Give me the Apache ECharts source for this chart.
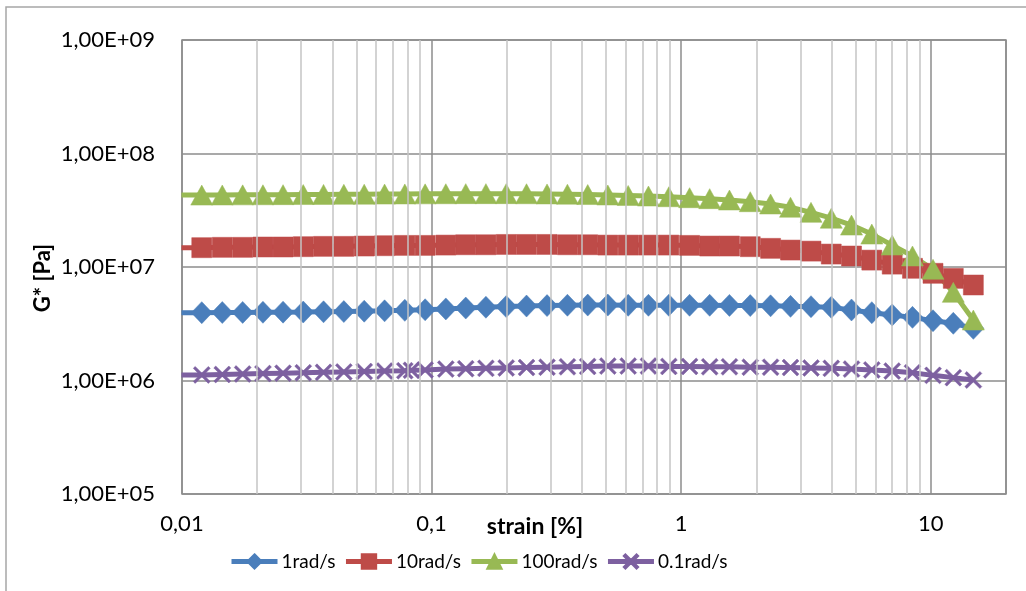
<!DOCTYPE html>
<html>
<head>
<meta charset="utf-8">
<script src="https://cdn.jsdelivr.net/npm/echarts@6/dist/echarts.min.js"></script>
<style>
  html, body { margin: 0; padding: 0; background: #fff; }
  #chart { width: 1026px; height: 591px; }
</style>
</head>
<body>
<div id="chart"></div>
<script>
// Strain sweep (%) – first entry lies just left of the axis start
const strain = [0.00995, 0.0120, 0.0145, 0.0175, 0.0211, 0.0254, 0.0306, 0.0369, 0.0445, 0.0537,
  0.0648, 0.0781, 0.0942, 0.114, 0.137, 0.165, 0.199, 0.240, 0.290, 0.350,
  0.422, 0.508, 0.613, 0.739, 0.892, 1.08, 1.30, 1.56, 1.89, 2.28,
  2.74, 3.31, 3.99, 4.81, 5.80, 7.00, 8.44, 10.2, 12.3, 14.8];

// 0.1 rad/s sweep has one extra point near 0.083 %
const strainSlow = [0.00995, 0.0120, 0.0145, 0.0175, 0.0211, 0.0254, 0.0306, 0.0369, 0.0445, 0.0537,
  0.0648, 0.0781, 0.083, 0.0942, 0.114, 0.137, 0.165, 0.199, 0.240, 0.290, 0.350,
  0.422, 0.508, 0.613, 0.739, 0.892, 1.08, 1.30, 1.56, 1.89, 2.28,
  2.74, 3.31, 3.99, 4.81, 5.80, 7.00, 8.44, 10.2, 12.3, 14.8];

// Complex modulus G* (Pa)
const g1 = [3.96e6, 3.96e6, 3.97e6, 3.98e6, 3.99e6, 4.00e6, 4.01e6, 4.03e6, 4.05e6, 4.08e6,
  4.11e6, 4.15e6, 4.20e6, 4.27e6, 4.35e6, 4.42e6, 4.48e6, 4.53e6, 4.57e6, 4.60e6,
  4.62e6, 4.62e6, 4.60e6, 4.60e6, 4.60e6, 4.60e6, 4.60e6, 4.59e6, 4.57e6, 4.55e6,
  4.50e6, 4.47e6, 4.41e6, 4.18e6, 3.96e6, 3.78e6, 3.60e6, 3.36e6, 3.19e6, 2.88e6];

const g10 = [1.48e7, 1.48e7, 1.49e7, 1.49e7, 1.50e7, 1.50e7, 1.51e7, 1.52e7, 1.52e7, 1.53e7,
  1.54e7, 1.55e7, 1.55e7, 1.56e7, 1.57e7, 1.57e7, 1.58e7, 1.58e7, 1.58e7, 1.57e7,
  1.57e7, 1.56e7, 1.56e7, 1.56e7, 1.56e7, 1.55e7, 1.53e7, 1.53e7, 1.51e7, 1.46e7,
  1.41e7, 1.38e7, 1.30e7, 1.25e7, 1.15e7, 1.06e7, 9.74e6, 8.80e6, 7.94e6, 6.94e6];

const g100 = [4.30e7, 4.30e7, 4.31e7, 4.32e7, 4.33e7, 4.34e7, 4.35e7, 4.36e7, 4.37e7, 4.38e7,
  4.39e7, 4.40e7, 4.41e7, 4.42e7, 4.43e7, 4.43e7, 4.43e7, 4.42e7, 4.40e7, 4.38e7,
  4.35e7, 4.31e7, 4.27e7, 4.22e7, 4.16e7, 4.08e7, 4.00e7, 3.89e7, 3.76e7, 3.59e7,
  3.36e7, 3.03e7, 2.69e7, 2.34e7, 1.95e7, 1.56e7, 1.25e7, 9.55e6, 5.98e6, 3.41e6];

const g01 = [1.12e6, 1.12e6, 1.13e6, 1.14e6, 1.15e6, 1.16e6, 1.17e6, 1.18e6, 1.19e6, 1.20e6,
  1.21e6, 1.22e6, 1.23e6, 1.24e6, 1.26e6, 1.27e6, 1.28e6, 1.29e6, 1.30e6, 1.31e6,
  1.32e6, 1.33e6, 1.34e6, 1.34e6, 1.34e6, 1.33e6, 1.33e6, 1.32e6, 1.32e6, 1.31e6,
  1.31e6, 1.30e6, 1.29e6, 1.28e6, 1.26e6, 1.24e6, 1.21e6, 1.17e6, 1.11e6, 1.06e6, 1.01e6];

const seriesNames = ['1rad/s', '10rad/s', '100rad/s', '0.1rad/s'];
const colors = ['#4A7EBB', '#BE4B48', '#98B954', '#7D60A0'];

// Minor grid positions on the strain axis
const minorStrain = [0.02, 0.03, 0.04, 0.05, 0.06, 0.07, 0.08, 0.09,
  0.2, 0.3, 0.4, 0.5, 0.6, 0.7, 0.8, 0.9,
  2, 3, 4, 5, 6, 7, 8, 9];

const FONT = 'Lato';
const crossPath = 'path://M0,1.6 L1.6,0 L7,5.4 L12.4,0 L14,1.6 L8.6,7 L14,12.4 L12.4,14 L7,8.6 L1.6,14 L0,12.4 L5.4,7 Z';

function pairs(xs, ys) {
  return xs.map((x, i) => i === 0 ? { value: [x, ys[i]], symbol: 'none' } : [x, ys[i]]);
}

function makeSeries(name, xs, ys, color, symbol, size) {
  return {
    name: name,
    type: 'line',
    data: pairs(xs, ys),
    symbol: symbol,
    symbolSize: size,
    showAllSymbol: true,
    clip: true,
    z: 3,
    lineStyle: { color: color, width: 5 },
    itemStyle: { color: color, borderColor: color, borderWidth: 0.5 },
    emphasis: { disabled: true }
  };
}

const chart = echarts.init(document.getElementById('chart'), null, { renderer: 'canvas' });

chart.setOption({
  animation: false,
  backgroundColor: '#fff',
  color: colors,
  textStyle: { fontFamily: FONT },
  grid: {
    left: 182, top: 40, right: 20, bottom: 97,
    show: true, borderColor: '#8c8c8c', borderWidth: 1.5, backgroundColor: 'transparent'
  },
  xAxis: {
    type: 'log', logBase: 10, min: 0.01, max: 20,
    axisLine: { show: false },
    axisTick: { show: false },
    splitLine: { show: true, lineStyle: { color: '#8c8c8c', width: 1.5 } },
    axisLabel: {
      color: '#000', fontSize: 22, fontFamily: FONT, margin: 19,
      showMaxLabel: false,
      formatter: v => (v > 15 ? '' : String(+v.toPrecision(3)).replace('.', ','))
    }
  },
  yAxis: {
    type: 'log', logBase: 10, min: 1e5, max: 1e9,
    axisLine: { show: false },
    axisTick: { show: false },
    splitLine: { show: true, lineStyle: { color: '#8c8c8c', width: 1.5 } },
    axisLabel: {
      color: '#000', fontSize: 22, fontFamily: FONT, margin: 27,
      formatter: v => '1,00E+' + String(Math.round(Math.log10(v))).padStart(2, '0')
    }
  },
  legend: {
    data: seriesNames,
    left: 224, top: 547,
    itemWidth: 46, itemHeight: 18, itemGap: 8,
    lineStyle: { width: 5 },
    textStyle: { color: '#000', fontSize: 19, fontFamily: FONT, padding: [0, 0, 0, -1] }
  },
  graphic: [
    {
      type: 'rect', silent: true, z: 0,
      shape: { x: 6, y: 7, width: 1100, height: 700 },
      style: { fill: 'none', stroke: '#a6a6a6', lineWidth: 1.5 }
    },
    {
      type: 'text', silent: true,
      x: 43, y: 278, rotation: Math.PI / 2,
      style: { text: 'G* [Pa]', fill: '#000', font: 'bold 22px ' + FONT, align: 'center', verticalAlign: 'middle' }
    },
    {
      type: 'text', silent: true,
      x: 535, y: 527,
      style: { text: 'strain [%]', fill: '#000', font: 'bold 23px ' + FONT, align: 'center', verticalAlign: 'middle' }
    }
  ],
  series: [
    {
      name: 'minor-grid', type: 'line', data: [], z: 1, silent: true,
      markLine: {
        silent: true, symbol: 'none', label: { show: false },
        lineStyle: { color: '#c4c4c4', width: 1.5, type: 'solid' },
        animation: false,
        data: minorStrain.map(v => ({ xAxis: v }))
      }
    },
    makeSeries(seriesNames[0], strain, g1, colors[0], 'diamond', [21, 22]),
    makeSeries(seriesNames[1], strain, g10, colors[1], 'rect', [20, 20]),
    makeSeries(seriesNames[2], strain, g100, colors[2], 'triangle', [22, 20]),
    makeSeries(seriesNames[3], strainSlow, g01, colors[3], crossPath, [17, 17])
  ]
});
</script>
</body>
</html>
